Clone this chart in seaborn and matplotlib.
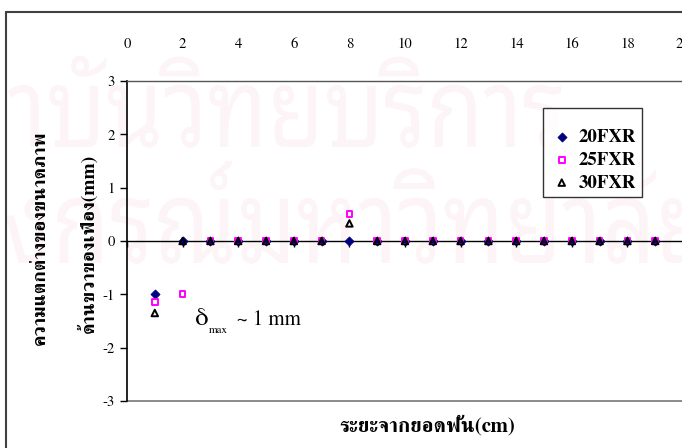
import matplotlib
matplotlib.use("Agg")
import matplotlib.pyplot as plt
from matplotlib.lines import Line2D
from matplotlib.textpath import TextPath
from matplotlib.patches import PathPatch
from matplotlib.font_manager import FontProperties
from matplotlib.transforms import Affine2D
import seaborn as sns

# ---- data ----
x_pos = [1, 2, 3, 4, 5, 6, 7, 8, 9, 10, 11, 12, 13, 14, 15, 16, 17, 18, 19]
fxr20 = [-1.0, 0, 0, 0, 0, 0, 0, 0, 0, 0, 0, 0, 0, 0, 0, 0, 0, 0, 0]
fxr25 = [-1.15, -1.0, 0, 0, 0, 0, 0, 0.5, 0, 0, 0, 0, 0, 0, 0, 0, 0, 0, 0]
fxr30 = [-1.35, 0, 0, 0, 0, 0, 0, 0.33, 0, 0, 0, 0, 0, 0, 0, 0, 0, 0, 0]
series_names = ["20FXR", "25FXR", "30FXR"]
x_ticks = [0, 2, 4, 6, 8, 10, 12, 14, 16, 18, 20]
y_ticks = [-3, -2, -1, 0, 1, 2, 3]
xlabel = "ระยะจากยอดฟัน(cm)"
ylabel1 = "ความแตกต่างของขนาดภาพ"
ylabel2 = "ด้านขวาของเฟือง(mm)"
watermark1 = "สถาบันวิทยบริการ"
watermark2 = "จุฬาลงกรณ์มหาวิทยาลัย"

sns.set_theme(style="white")
plt.rcParams['font.family'] = ['FreeSerif', 'Liberation Serif', 'DejaVu Sans']
plt.rcParams['mathtext.fontset'] = 'stix'

W, H = 682, 448
fig = plt.figure(figsize=(W / 100, H / 100), dpi=100)

# ---- faint watermark (pixel coordinates, stretched to fit) ----
wm_fp = FontProperties(family='Noto Sans Thai Looped')


def add_watermark(text, prefix, body_top, baseline, vis_start, vis_end):
    full = TextPath((0, 0), text, size=1, prop=wm_fp)
    pre = TextPath((0, 0), prefix, size=1, prop=wm_fp)
    ref = TextPath((0, 0), "บ", size=1, prop=wm_fp).get_extents()
    fb = full.get_extents()
    pw = pre.get_extents().x1
    sx = (vis_end - vis_start) / (fb.x1 - pw)
    sy = (baseline - body_top) / ref.y1
    x0 = vis_start - pw * sx
    tr = Affine2D().scale(sx, sy).translate(x0, H - baseline)
    fig.add_artist(PathPatch(full, transform=tr, facecolor='#fdf4f7', edgecolor='none',
                             zorder=-10))


add_watermark(watermark1, "สถ", 85, 147, 0, 561)
add_watermark(watermark2, "จุฬาล", 198, 263, -5, 705)

# outer frame
fig.add_artist(Line2D([5.5 / W, 5.5 / W], [1 - 12.5 / H, 0], color='#404040', lw=1.5,
                      transform=fig.transFigure, zorder=-5))
fig.add_artist(Line2D([5.5 / W, 1.0], [1 - 12.5 / H, 1 - 12.5 / H], color='#404040', lw=1.5,
                      transform=fig.transFigure, zorder=-5))

ax = fig.add_axes([127 / W, 1 - 401 / H, 556 / W, 320 / H])
ax.set_zorder(2)
ax.patch.set_alpha(0)

sns.scatterplot(x=x_pos, y=fxr20, marker='D', s=22, color='#000080', edgecolor='#000080',
                linewidth=0.5, label=series_names[0], ax=ax, zorder=3, clip_on=False)
sns.scatterplot(x=x_pos, y=fxr25, marker='s', s=17, facecolor='none', edgecolor='#FF00FF',
                linewidth=1.4, label=series_names[1], ax=ax, zorder=4, clip_on=False)
sns.scatterplot(x=x_pos, y=fxr30, marker='^', s=22, facecolor='none', edgecolor='black',
                linewidth=1.4, label=series_names[2], ax=ax, zorder=5, clip_on=False)

ax.set_xlim(0, 20)
ax.set_ylim(-3, 3)
ax.set_xticks(x_ticks)
ax.set_yticks(y_ticks)
ax.set_yticklabels([str(v) for v in y_ticks])
ax.set_xticklabels([str(v) for v in x_ticks])

# spines
ax.spines['bottom'].set_position(('data', 0))
ax.spines['bottom'].set_color('black')
ax.spines['bottom'].set_linewidth(1.0)
ax.spines['bottom'].set_zorder(2)
ax.spines['left'].set_color('black')
ax.spines['left'].set_linewidth(1.2)
ax.spines['top'].set_color('#555555')
ax.spines['top'].set_linewidth(1.0)
ax.spines['right'].set_visible(False)
ax.plot([0, 20], [-3, -3], color='#777777', lw=1.2, clip_on=False, zorder=1)

ax.tick_params(axis='x', which='both', bottom=True, top=False, labelbottom=False,
               labeltop=True, direction='out', length=4.5, width=1, color='black',
               pad=17, labelsize=10.5, labelcolor='black')
ax.tick_params(axis='y', which='both', left=True, right=False, direction='out',
               length=5, width=1, color='black', pad=4, labelsize=10.5, labelcolor='black')

# annotation: delta_max ~ 1 mm
ax.text(2.45, -1.58, "δ", fontsize=19, va='baseline', ha='left', color='black')
ax.text(2.93, -1.72, "max", fontsize=8, va='baseline', ha='left', color='black')
ax.text(3.95, -1.58, "~ 1 mm", fontsize=15, va='baseline', ha='left', color='black')

# axis labels
fig.text(427 / W, 1 - 425 / H, xlabel, fontsize=15, fontweight='bold', ha='center',
         va='center', color='black')
fig.text(40 / W, 1 - 238 / H, ylabel1, fontsize=14, fontweight='bold', rotation=90,
         ha='center', va='center', color='black')
fig.text(88 / W, 1 - 243 / H, ylabel2, fontsize=14, fontweight='bold', rotation=90,
         ha='center', va='center', color='black')

leg = ax.legend(loc='upper left', bbox_to_anchor=(543 / W, 1 - 108 / H),
                bbox_transform=fig.transFigure, borderaxespad=0, frameon=True,
                fancybox=False, shadow=False, prop={'weight': 'bold', 'size': 13.5},
                handletextpad=0.2, labelspacing=0.3, borderpad=0.3, handlelength=1.4,
                title=" ", title_fontproperties={'size': 7})
leg.get_frame().set_edgecolor('black')
leg.get_frame().set_linewidth(1.0)
for t in leg.get_texts():
    t.set_color('black')

fig.savefig("out.png", dpi=100)
